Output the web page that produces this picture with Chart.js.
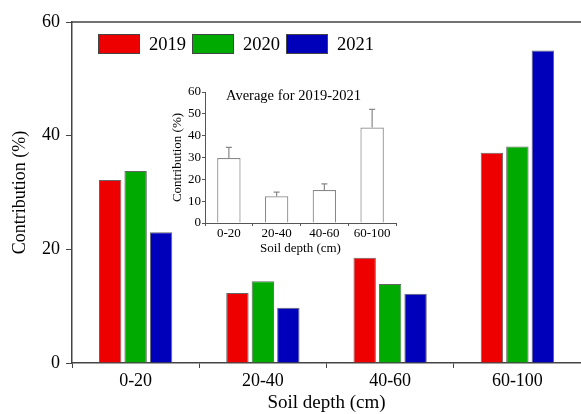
<!DOCTYPE html>
<html>
<head>
<meta charset="utf-8">
<script src="https://cdn.jsdelivr.net/npm/chart.js@4"></script>
<style>
  body { margin: 0; background: #fff; }
  #wrap { position: relative; width: 581px; height: 414px; font-family: "Liberation Serif", "Times New Roman", serif; }
  #main { position: absolute; left: 0; top: 0; }
  #inset { position: absolute; left: 150px; top: 75px; }
  .leg { position: absolute; top: 34px; height: 20px; display: flex; align-items: center; font-size: 18.5px; }
  .leg span.box { width: 40px; height: 18px; border: 1px solid #444; margin-right: 9px; }
  #insetTitle { position: absolute; left: 226px; top: 88px; font-size: 14.5px; line-height: 1; white-space: nowrap; }
</style>
</head>
<body>
<div id="wrap">
  <canvas id="main" width="581" height="414"></canvas>
  <canvas id="inset" width="260" height="190"></canvas>
  <div id="legend"></div>
  <div id="insetTitle">Average for 2019-2021</div>
</div>
<script>
// Dados
const depths = ['0-20', '20-40', '40-60', '60-100'];
const years = ['2019', '2020', '2021'];
const yearColors = ['#ee0000', '#00aa00', '#0000bb'];
const values2019 = [32.2, 12.3, 18.5, 37.0];
const values2020 = [33.8, 14.4, 13.9, 38.1];
const values2021 = [23.0, 9.7, 12.2, 55.0];
const avgMeans = [29.8, 12.2, 15.1, 43.7];
const avgErrors = [4.8, 1.9, 2.8, 8.3];

Chart.defaults.font.family = '"Liberation Serif", "Times New Roman", serif';
Chart.defaults.color = '#000';

// Legenda em HTML
const legendPos = [98, 192, 286];
const legendEl = document.getElementById('legend');
years.forEach((y, i) => {
  const d = document.createElement('div');
  d.className = 'leg';
  d.style.left = legendPos[i] + 'px';
  d.innerHTML = `<span class="box" style="background:${yearColors[i]}"></span><span>${y}</span>`;
  legendEl.appendChild(d);
});

// Linha superior da moldura
const topFrame = {
  id: 'topFrame',
  afterDraw(chart) {
    const { ctx, chartArea } = chart;
    ctx.save();
    ctx.strokeStyle = '#444';
    ctx.lineWidth = 1.5;
    ctx.beginPath();
    ctx.moveTo(chartArea.left, chartArea.top);
    ctx.lineTo(chart.width, chartArea.top);
    ctx.stroke();
    ctx.restore();
  }
};

// Gráfico principal
new Chart(document.getElementById('main'), {
  type: 'bar',
  data: {
    labels: depths,
    datasets: [values2019, values2020, values2021].map((d, i) => ({
      label: years[i],
      data: d,
      backgroundColor: yearColors[i],
      borderColor: '#666',
      borderWidth: 1,
      barPercentage: 0.88,
      categoryPercentage: 0.6
    }))
  },
  options: {
    responsive: false,
    animation: false,
    layout: { padding: { top: 22, right: 0, left: 0, bottom: 0 } },
    plugins: { legend: { display: false }, tooltip: { enabled: false } },
    scales: {
      x: {
        afterFit: s => { s.height = 51; },
        grid: { offset: true, drawOnChartArea: false, tickLength: 5, color: '#444' },
        border: { color: '#444', width: 1.5 },
        ticks: { font: { size: 18 }, padding: 2 },
        title: { display: true, text: 'Soil depth (cm)', font: { size: 19 }, padding: { top: 0, bottom: 0 } }
      },
      y: {
        min: 0, max: 60,
        afterFit: s => { s.width = 72; },
        grid: { drawOnChartArea: false, tickLength: 6, color: '#444' },
        border: { color: '#444', width: 1.5 },
        ticks: { stepSize: 20, font: { size: 18 }, padding: 6 },
        title: { display: true, text: 'Contribution (%)', font: { size: 18 }, padding: { top: 9, bottom: 0 } }
      }
    }
  },
  plugins: [topFrame]
});

// Barras de erro do gráfico interno
const errorBars = {
  id: 'errorBars',
  afterDatasetsDraw(chart) {
    const { ctx } = chart;
    const yScale = chart.scales.y;
    const meta = chart.getDatasetMeta(0);
    ctx.save();
    ctx.strokeStyle = '#888';
    ctx.lineWidth = 1.2;
    meta.data.forEach((bar, i) => {
      const y0 = yScale.getPixelForValue(avgMeans[i]);
      const y1 = yScale.getPixelForValue(avgMeans[i] + avgErrors[i]);
      ctx.beginPath();
      ctx.moveTo(bar.x, y0);
      ctx.lineTo(bar.x, y1);
      ctx.moveTo(bar.x - 3, y1);
      ctx.lineTo(bar.x + 3, y1);
      ctx.stroke();
    });
    ctx.restore();
  }
};

// Gráfico interno (média)
new Chart(document.getElementById('inset'), {
  type: 'bar',
  data: {
    labels: depths,
    datasets: [{
      label: 'Average',
      data: avgMeans,
      backgroundColor: '#fff',
      borderColor: '#888',
      borderWidth: 1.2,
      barPercentage: 0.49,
      categoryPercentage: 1
    }]
  },
  options: {
    responsive: false,
    animation: false,
    layout: { padding: { top: 17, right: 14, left: 0, bottom: 0 } },
    plugins: { legend: { display: false }, tooltip: { enabled: false } },
    scales: {
      x: {
        afterFit: s => { s.height = 42; },
        grid: { offset: true, drawOnChartArea: false, tickLength: 3, color: '#555' },
        border: { color: '#555', width: 1 },
        ticks: { font: { size: 13 }, padding: 0 },
        title: { display: true, text: 'Soil depth (cm)', font: { size: 13 }, padding: { top: 0, bottom: 9 } }
      },
      y: {
        min: 0, max: 60,
        afterFit: s => { s.width = 55; },
        grid: { drawOnChartArea: false, tickLength: 3, color: '#555' },
        border: { color: '#555', width: 1 },
        ticks: { stepSize: 10, font: { size: 13 }, padding: 1 },
        title: { display: true, text: 'Contribution (%)', font: { size: 13 }, padding: { top: 20, bottom: 0 } }
      }
    }
  },
  plugins: [errorBars]
});
</script>
</body>
</html>
